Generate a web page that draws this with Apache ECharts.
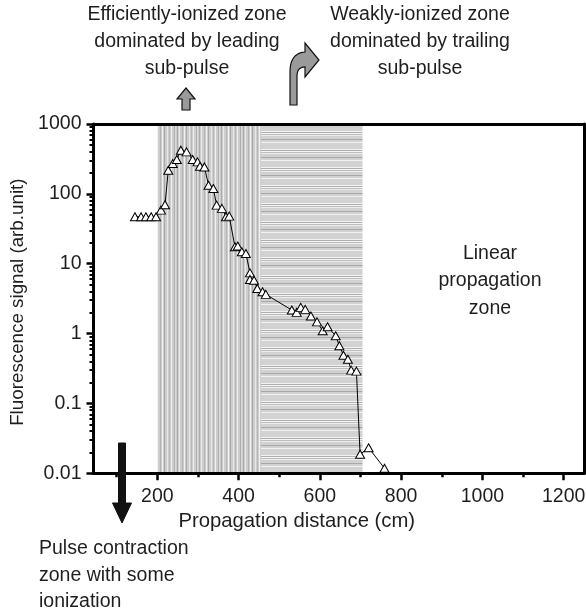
<!DOCTYPE html>
<html><head><meta charset="utf-8">
<script src="https://cdn.jsdelivr.net/npm/echarts@6/dist/echarts.min.js"></script>
<style>html,body{margin:0;padding:0;background:#fff}#c{width:586px;height:610px}</style>
</head><body><div id="c"></div>
<script>
// ---- data ----
const distance = [145,160,172,185,197,209,219,227,238,248,258,272,287,299,305,316,326,338,346,359,369,377,391,398,408,418,428,428,438,446,459,467,531,543,553,564,578,593,607,619,639,648,658,669,677,690,699,720,759];
const signal   = [47,47,47,47,47,58.5,70,218,272,310,422,399,310,287,249,243,133,119,69,62,47,48,17.5,17.9,14.8,14.0,7.4,5.96,5.8,4.43,3.96,3.64,2.17,2.01,2.37,2.22,1.78,1.47,1.10,1.25,0.93,0.67,0.49,0.43,0.30,0.29,0.0187,0.0232,0.0118];
const xMajorTicks = [200,400,600,800,1000,1200];
const xMinorTicks = [100,300,500,700,900,1100];
const yMajorTicks = [0.01,0.1,1,10,100,1000];
const yMinorTicks = [0.02,0.03,0.04,0.05,0.06,0.07,0.08,0.09,
                     0.2,0.3,0.4,0.5,0.6,0.7,0.8,0.9,
                     2,3,4,5,6,7,8,9,
                     20,30,40,50,60,70,80,90,
                     200,300,400,500,600,700,800,900];
const zoneBounds = [200,455,705];   // efficiently-ionized | weakly-ionized
const topLeftText = 'Efficiently-ionized zone\ndominated by leading\nsub-pulse';
const topRightText = 'Weakly-ionized zone\ndominated by trailing\nsub-pulse';
const linearText = 'Linear\npropagation\nzone';
const bottomText = 'Pulse contraction\nzone with some\nionization';

// ---- styling helpers ----
const FONT = '"Liberation Sans", Arial, Helvetica, sans-serif';
const TXT = '#1e1e1e';

function makePattern(seq, vertical){
  const c = document.createElement('canvas');
  const n = seq.length;
  c.width = vertical ? n : 4;
  c.height = vertical ? 4 : n;
  const g = c.getContext('2d');
  seq.forEach((col,i)=>{
    g.fillStyle = col;
    if (vertical) g.fillRect(i,0,1,4); else g.fillRect(0,i,4,1);
  });
  return c;
}
const B='#cdcdcd';
const vSeq = [B,'#ababab',B,'#ececec',B,B,'#b4b4b4',B,'#f2f2f2',B,'#a9a9a9',B,B,'#e8e8e8',B,'#b8b8b8',B,'#f0f0f0',B,B,'#aeaeae','#dcdcdc'];
const H='#d2d2d2';
const hSeq = [H,H,H,H,H,'#f2f2f2','#b0b0b0','#f4f4f4','#bdbdbd','#ececec',H,H,H,'#a8a8a8',H,H,'#f0f0f0',H];
const vPattern = {image: makePattern(vSeq,true), repeat:'repeat'};
const hPattern = {image: makePattern(hSeq,false), repeat:'repeat'};

// curved annotation arrow outline (quadratic bends sampled)
function quad(p0,p1,p2,n){
  const out=[];
  for(let i=0;i<=n;i++){const t=i/n,u=1-t;
    out.push([u*u*p0[0]+2*u*t*p1[0]+t*t*p2[0], u*u*p0[1]+2*u*t*p1[1]+t*t*p2[1]]);}
  return out;
}
const curvedArrow = [[290,105]]
  .concat(quad([290,72],[290,53],[305,52],10))
  .concat([[305,43],[319,60],[305,77]])
  .concat(quad([305,67],[297,67],[297,76],8))
  .concat([[297,105]]);

const X_MIN = 43, X_MAX = 1250;
const chart = echarts.init(document.getElementById('c'), null, {renderer:'canvas'});

const fmtLog = v => String(Number(Number(v).toPrecision(6)));
const fmtPlain = v => String(Math.round(v));

const option = {
  animation:false,
  backgroundColor:'#fff',
  grid:{left:93.5, right:2, top:124, bottom:136.7, containLabel:false, outerBoundsMode:'none'},
  xAxis:[
    {type:'value', min:X_MIN, max:X_MAX, position:'bottom', z:10,
     axisLine:{show:true, onZero:false, lineStyle:{color:'#000', width:3}},
     axisTick:{show:true, customValues:xMajorTicks, length:7, lineStyle:{color:'#000', width:2.5}},
     axisLabel:{customValues:xMajorTicks, formatter:fmtPlain, fontSize:19.5, color:TXT, fontFamily:FONT, margin:13},
     splitLine:{show:false},
     name:'Propagation distance (cm)', nameLocation:'middle', nameGap:37,
     nameTextStyle:{fontSize:20.3, color:TXT, fontFamily:FONT, padding:[0,84,0,0]}},
    {type:'value', min:X_MIN, max:X_MAX, position:'bottom', z:10,
     axisLine:{show:false, onZero:false},
     axisTick:{show:true, customValues:xMinorTicks, length:4, lineStyle:{color:'#000', width:2.5}},
     axisLabel:{show:false}, splitLine:{show:false}},
    {type:'value', min:X_MIN, max:X_MAX, position:'top', z:10,
     axisLine:{show:true, onZero:false, lineStyle:{color:'#000', width:3}},
     axisTick:{show:false}, axisLabel:{show:false}, splitLine:{show:false}}
  ],
  yAxis:[
    {type:'log', logBase:10, min:0.01, max:1000, position:'left', z:10,
     axisLine:{show:true, onZero:false, lineStyle:{color:'#000', width:3}},
     axisTick:{show:true, customValues:yMajorTicks, length:7, lineStyle:{color:'#000', width:2.5}},
     axisLabel:{customValues:yMajorTicks, formatter:fmtLog, fontSize:19.5, color:TXT, fontFamily:FONT, margin:12},
     splitLine:{show:false}, minorTick:{show:false},
     name:'Fluorescence signal (arb.unit)', nameLocation:'middle', nameGap:59, nameRotate:90,
     nameTextStyle:{fontSize:18.8, color:TXT, fontFamily:FONT, padding:[0,7,0,0]}},
    {type:'log', logBase:10, min:0.01, max:1000, position:'left', z:10,
     axisLine:{show:false, onZero:false},
     axisTick:{show:true, customValues:yMinorTicks, length:4, lineStyle:{color:'#000', width:2}},
     axisLabel:{show:false}, splitLine:{show:false}},
    {type:'log', logBase:10, min:0.01, max:1000, position:'right', z:10,
     axisLine:{show:true, onZero:false, lineStyle:{color:'#000', width:3}},
     axisTick:{show:false}, axisLabel:{show:false}, splitLine:{show:false}}
  ],
  series:[{
    type:'line', xAxisIndex:0, yAxisIndex:0, z:5,
    data: distance.map((d,i)=>[d, signal[i]]),
    symbol:'triangle', symbolSize:[9,8], showAllSymbol:true,
    itemStyle:{color:'#fff', borderColor:'#000', borderWidth:1},
    lineStyle:{color:'#000', width:1},
    emphasis:{disabled:true},
    markArea:{
      silent:true, label:{show:false},
      data:[
        [{xAxis:zoneBounds[0], itemStyle:{color:vPattern}}, {xAxis:zoneBounds[1]}],
        [{xAxis:zoneBounds[1], itemStyle:{color:hPattern}}, {xAxis:zoneBounds[2]}]
      ]
    }
  }],
  graphic:[
    {type:'text', x:187, y:41.7, z:20,
     style:{text:topLeftText, align:'center', verticalAlign:'middle', fontSize:19.5, lineHeight:26.7, fontFamily:FONT, fill:TXT}},
    {type:'text', x:420, y:41.7, z:20,
     style:{text:topRightText, align:'center', verticalAlign:'middle', fontSize:19.5, lineHeight:26.7, fontFamily:FONT, fill:TXT}},
    {type:'text', x:490, y:281, z:20,
     style:{text:linearText, align:'center', verticalAlign:'middle', fontSize:19.5, lineHeight:27.5, fontFamily:FONT, fill:TXT}},
    {type:'text', x:39, y:575.5, z:20,
     style:{text:bottomText, align:'left', verticalAlign:'middle', fontSize:19.5, lineHeight:26.5, fontFamily:FONT, fill:TXT}},
    {type:'polygon', z:20,
     shape:{points:[[182,110],[190,110],[190,99],[195,99],[186,88],[177,99],[182,99]]},
     style:{fill:'#9a9a9a', stroke:'#111', lineWidth:1.2}},
    {type:'polygon', z:20,
     shape:{points:curvedArrow},
     style:{fill:'#9a9a9a', stroke:'#111', lineWidth:1.2}},
    {type:'polygon', z:20,
     shape:{points:[[118.5,443],[125.5,443],[125.5,503],[131.5,503],[122,523],[112.5,503],[118.5,503]]},
     style:{fill:'#111', stroke:'#111', lineWidth:1}}
  ]
};
chart.setOption(option);
</script>
</body></html>
